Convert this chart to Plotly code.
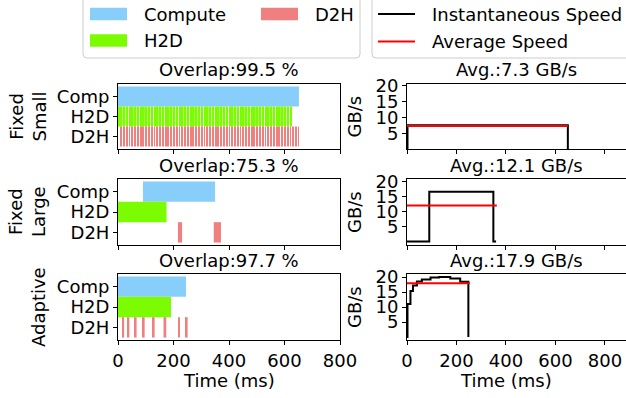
import plotly.graph_objects as go

W, H = 626, 398

# ---------------- data ----------------
categories = ["D2H", "H2D", "Comp"]          # y positions 0,1,2
overlap_titles = ["Overlap:99.5 %", "Overlap:75.3 %", "Overlap:97.7 %"]
avg_titles = ["Avg.:7.3 GB/s", "Avg.:12.1 GB/s", "Avg.:17.9 GB/s"]
row_labels = ["Fixed<br>Small", "Fixed<br>Large", "Adaptive"]

# Fixed Small (ms)
small_comp_start = [0]
small_comp_dur = [652]
small_h2d_start = [0, 10, 20, 30, 40, 50, 60, 70, 80, 90, 100, 110, 120, 130, 140, 150,
                   160, 170, 180, 190, 200, 210, 220, 230, 240, 250, 260, 270, 280, 290,
                   300, 310, 320, 330, 340, 350, 360, 370, 380, 390, 400, 410, 420, 430,
                   440, 450, 460, 470, 480, 490, 500, 510, 520, 530, 540, 550, 560, 570,
                   580, 590, 600, 610, 620]
small_h2d_dur = 6.5
small_d2h_start = [10, 20, 30, 40, 50, 60, 70, 80, 90, 100, 110, 120, 130, 140, 150, 160,
                   170, 180, 190, 200, 210, 220, 230, 240, 250, 260, 270, 280, 290, 300,
                   310, 320, 330, 340, 350, 360, 370, 380, 390, 400, 410, 420, 430, 440,
                   450, 460, 470, 480, 490, 500, 510, 520, 530, 540, 550, 560, 570, 580,
                   590, 600, 610, 620, 630, 640, 649]
small_d2h_dur = 3.2

# Fixed Large (ms)
large_comp_start = [90]
large_comp_dur = [260]
large_h2d_start = [0]
large_h2d_dur = [175]
large_d2h_start = [216, 345]
large_d2h_dur = [15, 26]

# Adaptive (ms)
adapt_comp_start = [0]
adapt_comp_dur = [245]
adapt_h2d_start = [0]
adapt_h2d_dur = [191]
adapt_d2h_start = [17, 36, 61, 90, 126, 164, 217, 245]
adapt_d2h_dur = [5, 5, 6, 6, 6, 10, 6, 6]

# Speeds (GB/s)
small_speed_t = [0, 2, 650]
small_speed_v = [0, 7.5, 0]
small_avg_t = [0, 650]
small_avg_v = [7.3, 7.3]

large_speed_t = [0, 90, 349, 360]
large_speed_v = [0, 16.7, 0, 0]
large_avg_t = [0, 363]
large_avg_v = [12.1, 12.1]

adapt_speed_t = [0, 2, 14, 24, 40, 60, 95, 130, 175, 215, 248]
adapt_speed_v = [0, 11, 15.3, 17.2, 18.5, 19.2, 19.8, 20.0, 19.5, 18.4, 0]
adapt_avg_t = [0, 254]
adapt_avg_v = [17.9, 17.9]

x_ticks = [0, 200, 400, 600, 800]
speed_ticks = [5, 10, 15, 20]

C_COMP = "#87CEFA"
C_H2D = "#7CFC00"
C_D2H = "#F08080"

FONT = "DejaVu Sans"
FS = 18


def px(x):
    return x / W


def py(y):
    return 1 - y / H


fig = go.Figure()

rows = [
    dict(comp=(small_comp_start, small_comp_dur),
         h2d=(small_h2d_start, [small_h2d_dur] * len(small_h2d_start)),
         d2h=(small_d2h_start, [small_d2h_dur] * len(small_d2h_start)),
         sp=(small_speed_t, small_speed_v), av=(small_avg_t, small_avg_v)),
    dict(comp=(large_comp_start, large_comp_dur), h2d=(large_h2d_start, large_h2d_dur),
         d2h=(large_d2h_start, large_d2h_dur),
         sp=(large_speed_t, large_speed_v), av=(large_avg_t, large_avg_v)),
    dict(comp=(adapt_comp_start, adapt_comp_dur), h2d=(adapt_h2d_start, adapt_h2d_dur),
         d2h=(adapt_d2h_start, adapt_d2h_dur),
         sp=(adapt_speed_t, adapt_speed_v), av=(adapt_avg_t, adapt_avg_v)),
]

# panel pixel extents (top, bottom)
panel_y = [(84, 149), (179, 245), (274, 340)]
left_x = (118, 340)
right_x = (407, 626)
speed_ranges = [[0, 20.6], [-1.2, 21], [-1.0, 21]]

axis_common = dict(showline=True, linecolor="black", linewidth=1, ticks="outside",
                   ticklen=4, tickwidth=1, tickcolor="black", showgrid=False,
                   zeroline=False, automargin=False,
                   tickfont=dict(family=FONT, size=FS, color="black"))

layout_axes = {}
annotations = []
for i, r in enumerate(rows):
    li = 2 * i + 1
    ri = 2 * i + 2
    xl = "x" if li == 1 else f"x{li}"
    yl = "y" if li == 1 else f"y{li}"
    xr = f"x{ri}"
    yr = f"y{ri}"
    top, bot = panel_y[i]
    ydom = [py(bot), py(top)]
    last = (i == 2)

    # left Gantt bars
    for key, col, ypos in [("comp", C_COMP, 2), ("h2d", C_H2D, 1), ("d2h", C_D2H, 0)]:
        starts, durs = r[key]
        fig.add_trace(go.Bar(orientation="h", base=starts, x=durs, y=[ypos] * len(starts),
                             width=1, marker=dict(color=col, line=dict(width=0)),
                             xaxis=xl, yaxis=yl, showlegend=False))
    # right speed lines
    fig.add_trace(go.Scatter(x=r["sp"][0], y=r["sp"][1], mode="lines", line_shape="hv",
                             line=dict(color="black", width=2), xaxis=xr, yaxis=yr,
                             showlegend=False))
    fig.add_trace(go.Scatter(x=r["av"][0], y=r["av"][1], mode="lines",
                             line=dict(color="red", width=2), xaxis=xr, yaxis=yr,
                             showlegend=False))

    layout_axes["xaxis" if li == 1 else f"xaxis{li}"] = dict(
        axis_common, domain=[px(left_x[0]), px(left_x[1])], range=[0, 800],
        tickvals=x_ticks, showticklabels=last, mirror=True, anchor=yl)
    layout_axes["yaxis" if li == 1 else f"yaxis{li}"] = dict(
        axis_common, domain=ydom, range=[-0.62, 2.62], tickvals=[0, 1, 2],
        ticktext=categories, mirror=True, anchor=xl)
    layout_axes[f"xaxis{ri}"] = dict(
        axis_common, domain=[px(right_x[0]), 1.0], range=[0, 885],
        tickvals=x_ticks, showticklabels=last, mirror=True, anchor=yr)
    layout_axes[f"yaxis{ri}"] = dict(
        axis_common, domain=ydom, range=speed_ranges[i], tickvals=speed_ticks,
        mirror=False, anchor=xr)

    # titles
    annotations.append(dict(text=overlap_titles[i], x=px((left_x[0] + left_x[1]) / 2),
                            y=py(top - 1.5), xref="paper", yref="paper", xanchor="center",
                            yanchor="bottom", showarrow=False,
                            font=dict(family=FONT, size=FS, color="black")))
    annotations.append(dict(text=avg_titles[i], x=px(516.5), y=py(top - 1.5), xref="paper",
                            yref="paper", xanchor="center", yanchor="bottom",
                            showarrow=False, font=dict(family=FONT, size=FS, color="black")))
    # row labels
    annotations.append(dict(text=row_labels[i], x=px(27 if i < 2 else 38),
                            y=py((top + bot) / 2), xref="paper", yref="paper",
                            xanchor="center", yanchor="middle", textangle=-90,
                            showarrow=False, font=dict(family=FONT, size=FS, color="black")))
    annotations.append(dict(text="GB/s", x=px(354), y=py((top + bot) / 2), xref="paper",
                            yref="paper", xanchor="center", yanchor="middle", textangle=-90,
                            showarrow=False, font=dict(family=FONT, size=FS, color="black")))

annotations.append(dict(text="Time (ms)", x=px(229), y=py(380), xref="paper", yref="paper",
                        xanchor="center", yanchor="middle", showarrow=False,
                        font=dict(family=FONT, size=FS, color="black")))
annotations.append(dict(text="Time (ms)", x=px(506), y=py(380), xref="paper", yref="paper",
                        xanchor="center", yanchor="middle", showarrow=False,
                        font=dict(family=FONT, size=FS, color="black")))

# ---------------- legends (drawn manually) ----------------
shapes = []


def rounded_box(x0, y0, x1, y1, r=4):
    X0, X1 = px(x0), px(x1)
    Y0, Y1 = py(y1), py(y0)
    rx, ry = r / W, r / H
    path = (f"M {X0+rx},{Y0} L {X1-rx},{Y0} Q {X1},{Y0} {X1},{Y0+ry} "
            f"L {X1},{Y1-ry} Q {X1},{Y1} {X1-rx},{Y1} L {X0+rx},{Y1} "
            f"Q {X0},{Y1} {X0},{Y1-ry} L {X0},{Y0+ry} Q {X0},{Y0} {X0+rx},{Y0} Z")
    return dict(type="path", path=path, xref="paper", yref="paper",
                line=dict(color="#cccccc", width=1), fillcolor="white", layer="above")


shapes.append(rounded_box(83, -6, 360, 58))
shapes.append(rounded_box(372, -6, 640, 58))

legend_left = [("Compute", C_COMP, 90, 14, 141.5), ("H2D", C_H2D, 90, 40.5, 141.5),
               ("D2H", C_D2H, 261, 14, 313)]
for name, col, x0, yc, tx in legend_left:
    shapes.append(dict(type="rect", xref="paper", yref="paper", x0=px(x0), x1=px(x0 + 37),
                       y0=py(yc + 6.3), y1=py(yc - 6.3), fillcolor=col,
                       line=dict(width=0), layer="above"))
    annotations.append(dict(text=name, x=px(tx), y=py(yc), xref="paper", yref="paper",
                            xanchor="left", yanchor="middle", showarrow=False,
                            font=dict(family=FONT, size=FS, color="black")))

legend_right = [("Instantaneous Speed", "black", 14), ("Average Speed", "red", 41.5)]
for name, col, yc in legend_right:
    shapes.append(dict(type="line", xref="paper", yref="paper", x0=px(378), x1=px(415),
                       y0=py(yc), y1=py(yc), line=dict(color=col, width=2), layer="above"))
    annotations.append(dict(text=name, x=px(430), y=py(yc), xref="paper", yref="paper",
                            xanchor="left", yanchor="middle", showarrow=False,
                            font=dict(family=FONT, size=FS, color="black")))

fig.update_layout(
    template="none",
    width=W, height=H, margin=dict(l=0, r=0, t=0, b=0, pad=0),
    paper_bgcolor="white", plot_bgcolor="white", barmode="overlay",
    font=dict(family=FONT, size=FS, color="black"),
    annotations=annotations, shapes=shapes, **layout_axes)

fig.write_html("out.html")
